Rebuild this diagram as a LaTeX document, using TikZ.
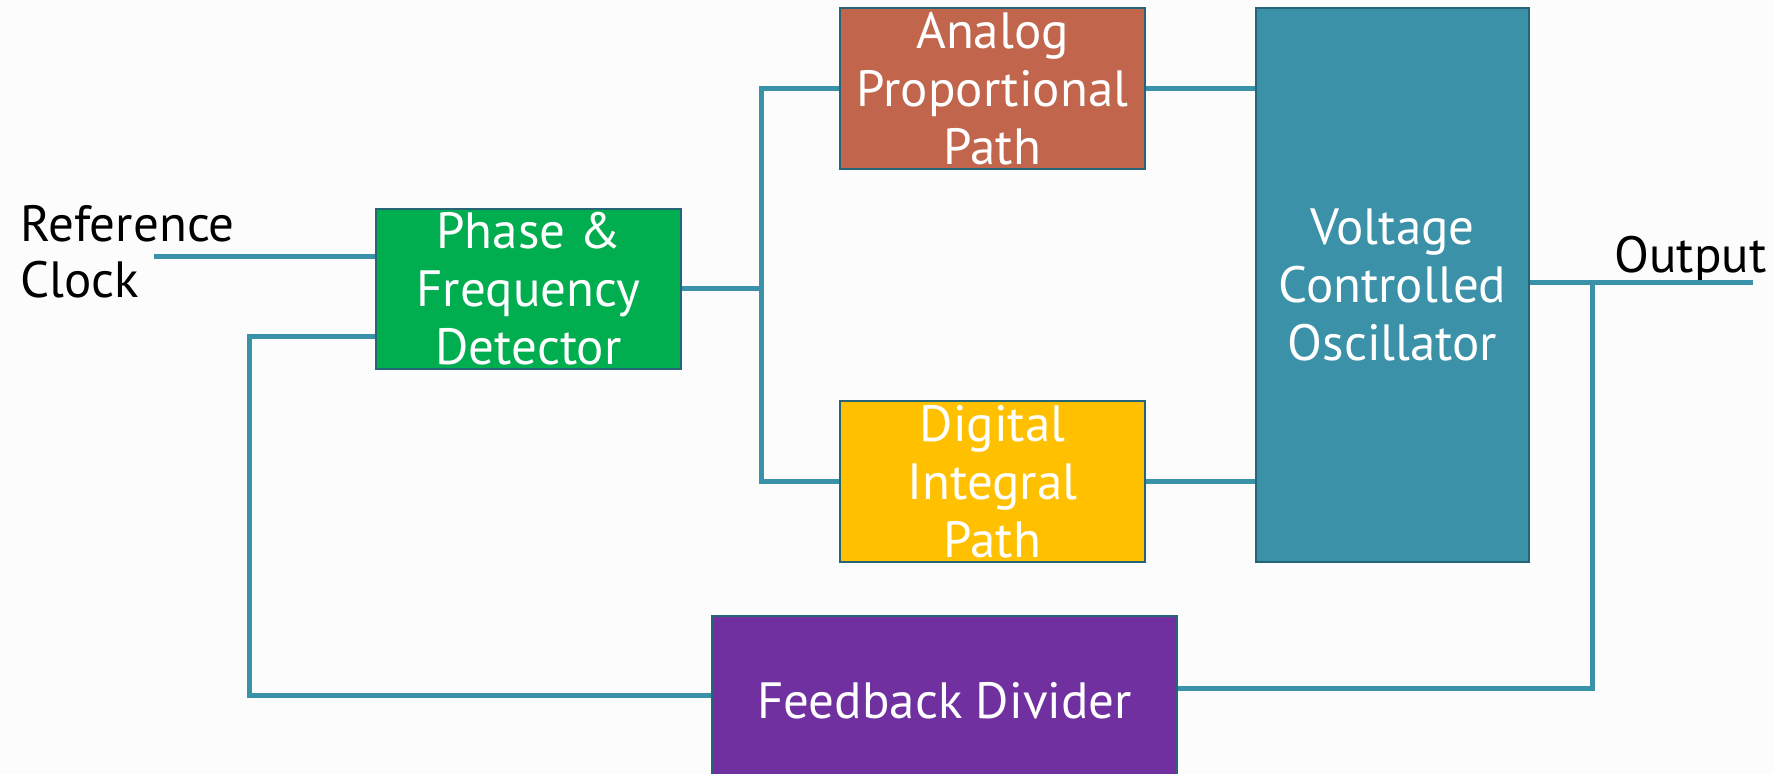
\documentclass[tikz,border=0pt]{standalone}
\usepackage{fontspec}
\setmainfont{PT Sans}
\definecolor{bgc}{RGB}{252,252,252}
\definecolor{wirec}{RGB}{58,146,168}
\definecolor{edgec}{RGB}{38,100,120}
\definecolor{pfdc}{RGB}{0,174,80}
\definecolor{anac}{RGB}{193,101,76}
\definecolor{digc}{RGB}{255,192,0}
\definecolor{vcoc}{RGB}{58,145,168}
\definecolor{fdc}{RGB}{112,48,160}
\begin{document}
\begin{tikzpicture}[x=0.5pt,y=-0.5pt,
  blk/.style={draw=edgec, line width=1.3pt, text=white, align=center, inner sep=0pt,
    font=\fontsize{25.5pt}{29pt}\selectfont},
  wire/.style={draw=wirec, line width=2.5pt, line join=miter},
  lbl/.style={text=black, inner sep=0pt, font=\fontsize{25.5pt}{28pt}\selectfont}]
\clip (0,0) rectangle (1773,774);
\fill[bgc] (0,0) rectangle (1773,774);

\node[blk, fill=pfdc, minimum width=152.5pt, minimum height=80pt] (pfd) at (528.5,289) {Phase \&\\Frequency\\Detector};
\node[blk, fill=anac, minimum width=152.5pt, minimum height=80.5pt] (apath) at (992.5,88.5) {Analog\\Proportional\\Path};
\node[blk, fill=digc, minimum width=152.5pt, minimum height=80.5pt] (dpath) at (992.5,481.5) {Digital\\Integral\\Path};
\node[blk, fill=vcoc, minimum width=136.5pt, minimum height=277pt] (vco) at (1392.5,285) {Voltage\\Controlled\\Oscillator};
\node[blk, fill=fdc, minimum width=232.5pt, minimum height=85pt] (fd) at (944.5,701) {Feedback Divider};

\node[lbl, align=left, anchor=west] (ref) at (20,252) {Reference\\Clock};
\node[lbl, anchor=base west] (outl) at (1614,273) {Output};

\coordinate (rin) at (154,257);
\coordinate (split) at (761,289);
\coordinate (fbk) at (249,337);
\coordinate (tap) at (1592,283);
\coordinate (oend) at (1753,283);

\draw[wire] (rin) -- (rin -| pfd.west);
\draw[wire] (pfd.east) -- (split);
\draw[wire] (apath.west) -| (split) |- (dpath.west);
\draw[wire] (apath.east) -- (apath.east -| vco.west);
\draw[wire] (dpath.east) -- (dpath.east -| vco.west);
\draw[wire] (vco.east |- oend) -- (oend);
\draw[wire] (fd.east |- 0,689) -| (tap);
\draw[wire] (fd.west |- 0,696) -| (fbk) -- (fbk -| pfd.west);
\end{tikzpicture}
\end{document}
